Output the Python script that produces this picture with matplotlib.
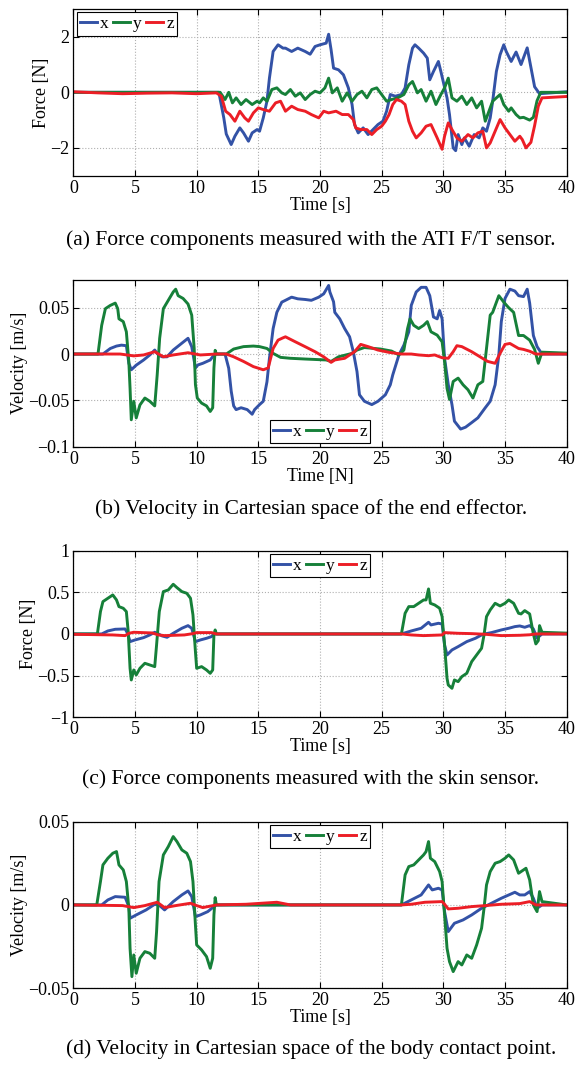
import numpy as np
import matplotlib
matplotlib.use("Agg")
import matplotlib.pyplot as plt
from matplotlib.ticker import FuncFormatter

# (time [s], value) pairs
a_x = [(0, 0), (11.8, 0), (12.2, -0.92), (12.4, -1.5), (12.8, -1.88), (13.1, -1.58), (13.5, -1.28),
       (13.8, -1.46), (14.2, -1.76), (14.5, -1.46), (14.9, -1.34), (15.1, -1.40), (15.4, -0.92),
       (15.7, -0.32), (15.9, 0.51), (16.2, 1.47), (16.6, 1.71), (17.0, 1.59), (17.2, 1.59), (17.7, 1.47),
       (18.2, 1.59), (18.8, 1.47), (19.2, 1.37), (19.6, 1.65), (20.0, 1.71), (20.5, 1.77), (20.7, 2.09),
       (20.9, 1.53), (21.1, 0.87), (21.5, 0.81), (21.9, 0.63), (22.3, 0.16), (22.6, -0.44), (22.8, -1.16),
       (23.1, -1.46), (23.5, -1.28), (23.9, -1.52), (24.3, -1.34), (24.7, -1.16), (25.1, -1.04),
       (25.4, -0.68), (25.7, -0.08), (26.1, -0.14), (26.6, -0.08), (26.9, 0.16), (27.2, 0.99), (27.5, 1.59),
       (27.7, 1.71), (28.0, 1.59), (28.4, 1.41), (28.7, 1.23), (28.9, 0.45), (29.2, 0.75), (29.6, 1.11),
       (29.8, 0.75), (30.3, -0.2), (30.5, -0.8), (30.8, -2.0), (31.0, -2.1), (31.2, -1.52), (31.5, -1.88),
       (31.7, -1.64), (32.1, -1.94), (32.5, -1.52), (32.9, -1.64), (33.2, -1.28), (33.5, -1.40),
       (33.8, -0.92), (34.0, -0.32), (34.3, 0.75), (34.6, 1.35), (34.9, 1.71), (35.1, 1.47), (35.5, 1.11),
       (35.9, 1.45), (36.3, 1.0), (36.8, 1.6), (37.1, 0.9), (37.4, 0.2), (37.8, -0.05), (40, 0.02)]
a_y = [(0, 0), (11.9, 0), (12.3, -0.26), (12.6, 0.0), (12.9, -0.38), (13.2, -0.2), (13.6, -0.44),
       (14.0, -0.26), (14.5, -0.44), (14.9, -0.32), (15.1, -0.38), (15.4, -0.2), (15.7, -0.32), (16.1, 0.1),
       (16.5, 0.16), (16.9, -0.02), (17.2, -0.08), (17.6, 0.1), (18.0, -0.14), (18.4, -0.02), (18.8, -0.26),
       (19.2, -0.08), (19.6, 0.04), (20.0, -0.02), (20.4, 0.16), (20.7, 0.51), (21.0, -0.02), (21.4, 0.16),
       (21.8, -0.32), (22.2, -0.02), (22.6, -0.32), (23.0, -0.08), (23.4, 0.04), (23.8, -0.2), (24.2, 0.1),
       (24.6, 0.16), (25.0, -0.08), (25.4, -0.32), (25.8, -0.26), (26.3, -0.2), (26.8, -0.08), (27.2, 0.27),
       (27.5, 0.39), (27.9, -0.02), (28.2, 0.1), (28.6, -0.32), (29.0, 0.04), (29.4, -0.44), (29.8, -0.08),
       (30.1, 0.16), (30.4, 0.51), (30.7, -0.2), (31.1, -0.32), (31.5, -0.14), (31.9, -0.44), (32.3, -0.2),
       (32.7, -0.56), (33.1, -0.32), (33.4, -1.04), (33.7, -0.68), (34.0, -0.32), (34.6, -0.08),
       (34.9, -0.44), (35.3, -0.68), (35.5, -0.56), (35.9, -0.8), (36.2, -0.92), (36.5, -0.9), (37.0, -1.0),
       (37.3, -0.9), (37.6, -0.3), (37.9, 0.0), (40, 0.0)]
a_z = [(0, 0.02), (2, -0.02), (4, -0.05), (6, -0.03), (8, -0.02), (10, -0.05), (11.6, -0.02), (12.0, -0.14),
       (12.35, -0.68), (12.7, -0.8), (13.1, -1.04), (13.5, -0.68), (13.9, -0.92), (14.2, -1.04),
       (14.6, -0.74), (15.0, -0.56), (15.4, -0.62), (15.9, -0.68), (16.4, -0.38), (16.8, -0.32),
       (17.2, -0.68), (17.7, -0.5), (18.2, -0.62), (18.8, -0.68), (19.3, -0.8), (19.9, -0.92), (20.3, -0.68),
       (20.7, -0.74), (21.3, -0.68), (21.8, -0.8), (22.3, -0.8), (22.7, -0.98), (22.9, -1.28), (23.3, -1.34),
       (23.8, -1.34), (24.2, -1.52), (24.6, -1.34), (25.0, -1.22), (25.3, -1.04), (25.6, -0.8), (25.9, -0.44),
       (26.2, -0.26), (26.6, -0.32), (26.9, -0.44), (27.2, -1.04), (27.5, -1.4), (27.8, -1.64), (28.2, -1.46),
       (28.6, -1.22), (29.0, -1.16), (29.5, -1.64), (29.9, -2.05), (30.1, -1.58), (30.4, -1.1), (30.7, -1.34),
       (31.1, -1.64), (31.5, -1.76), (32.0, -1.52), (32.4, -1.64), (32.8, -1.46), (33.2, -1.4), (33.5, -2.0),
       (33.8, -1.82), (34.2, -1.4), (34.6, -0.98), (35.0, -1.28), (35.4, -1.52), (35.8, -1.76), (36.2, -1.58),
       (36.4, -1.7), (36.7, -2.0), (37.1, -1.8), (37.4, -1.2), (37.7, -0.5), (38.0, -0.2), (40, -0.15)]

b_x = [(0, 0), (2.4, 0), (3.0, 0.006), (3.5, 0.0086), (3.9, 0.0096), (4.3, 0.009), (4.5, -0.01), (4.7, -0.017),
       (5.1, -0.012), (5.7, -0.0064), (6.2, -0.001), (6.6, 0.0043), (6.9, -0.001), (7.2, -0.003), (7.6, -0.003),
       (8.1, 0.0043), (8.6, 0.0096), (9.3, 0.017), (9.6, 0.0079), (9.9, -0.015), (10.1, -0.0118), (10.5, -0.01),
       (11.1, -0.0064), (11.3, -0.0029), (11.5, 0), (12.3, 0), (12.6, -0.0154), (12.8, -0.040), (13.0, -0.056),
       (13.2, -0.06), (13.6, -0.058), (14.1, -0.06), (14.5, -0.065), (14.7, -0.06), (15.1, -0.0546),
       (15.4, -0.051), (15.7, -0.03), (15.9, -0.0046), (16.2, 0.0275), (16.5, 0.045), (16.9, 0.056),
       (17.2, 0.058), (17.7, 0.0614), (18.2, 0.0596), (18.8, 0.0589), (19.3, 0.058), (19.9, 0.0614),
       (20.3, 0.065), (20.7, 0.074), (20.8, 0.067), (21.1, 0.0564), (21.2, 0.045), (21.6, 0.038), (22.0, 0.0275),
       (22.4, 0.0186), (22.7, 0.0025), (23.0, -0.019), (23.2, -0.044), (23.6, -0.051), (24.2, -0.0546),
       (24.7, -0.051), (25.3, -0.044), (25.7, -0.0332), (25.9, -0.0225), (26.4, -0.001), (26.8, 0.0096),
       (27.2, 0.024), (27.4, 0.0525), (27.8, 0.067), (28.2, 0.072), (28.6, 0.072), (28.9, 0.063), (29.2, 0.04),
       (29.5, 0.038), (29.7, 0.047), (29.9, 0.038), (30.1, -0.0046), (30.4, -0.033), (30.7, -0.0546),
       (30.9, -0.0725), (31.4, -0.081), (31.8, -0.079), (32.3, -0.074), (32.8, -0.0689), (33.4, -0.058),
       (33.8, -0.051), (34.2, -0.0332), (34.5, -0.001), (34.7, 0.035), (35.0, 0.06), (35.4, 0.07), (35.8, 0.068),
       (36.1, 0.063), (36.5, 0.062), (36.8, 0.07), (37.0, 0.055), (37.3, 0.02), (37.6, 0.008), (38.0, 0.0),
       (40, 0.0)]
b_y = [(0, 0), (2.0, 0), (2.3, 0.031), (2.6, 0.049), (3.0, 0.0525), (3.4, 0.055), (3.6, 0.049), (3.7, 0.038),
       (4.05, 0.035), (4.3, 0.024), (4.5, -0.008), (4.6, -0.037), (4.7, -0.071), (4.9, -0.051), (5.1, -0.069),
       (5.4, -0.055), (5.8, -0.0475), (6.2, -0.051), (6.6, -0.056), (6.8, -0.0225), (7.0, 0.017), (7.3, 0.049),
       (7.7, 0.058), (8.1, 0.067), (8.3, 0.070), (8.5, 0.063), (8.9, 0.060), (9.3, 0.054), (9.6, 0.042),
       (9.8, 0.006), (9.9, -0.033), (10.05, -0.0475), (10.4, -0.053), (10.8, -0.056), (11.1, -0.062),
       (11.3, -0.058), (11.4, -0.015), (11.5, 0.004), (11.6, 0), (12.4, 0), (13.0, 0.0054), (13.8, 0.008),
       (14.6, 0.0086), (15.1, 0.008), (15.7, 0.006), (16.2, 0.0007), (16.8, -0.0036), (17.6, -0.0046),
       (18.8, -0.0054), (20.5, -0.0064), (20.9, -0.008), (21.5, -0.003), (22.6, 0.0007), (23.0, 0.0043),
       (23.6, 0.007), (24.9, 0.0054), (25.8, 0.0032), (26.4, -0.001), (26.8, 0.0043), (27.1, 0.0275),
       (27.3, 0.038), (27.6, 0.031), (28.0, 0.0275), (28.4, 0.031), (28.7, 0.035), (29.0, 0.024), (29.5, 0.0204),
       (29.9, 0.0132), (30.1, -0.0082), (30.3, -0.037), (30.5, -0.049), (30.8, -0.0296), (31.2, -0.026),
       (31.6, -0.0332), (32.0, -0.0386), (32.4, -0.0475), (32.8, -0.0332), (33.2, -0.0296), (33.5, 0.006),
       (33.8, 0.042), (34.0, 0.045), (34.5, 0.063), (34.9, 0.056), (35.3, 0.050), (35.7, 0.045), (36.1, 0.020),
       (36.5, 0.02), (37.0, 0.015), (37.4, 0.005), (37.7, -0.01), (38.0, 0.002), (40, 0.001)]
b_z = [(0, 0), (3.8, 0), (4.9, -0.002), (5.7, -0.001), (6.6, 0.0025), (7.3, -0.003), (8.1, -0.001), (9.3, 0.0014),
       (10.3, -0.001), (11.6, 0), (12.4, 0), (13.0, -0.003), (13.8, -0.008), (14.6, -0.0136), (15.4, -0.017),
       (15.8, -0.015), (16.2, 0.006), (16.6, 0.015), (17.0, 0.0175), (17.2, 0.0186), (18.0, 0.0132),
       (18.8, 0.0079), (19.6, 0.0025), (20.3, -0.003), (20.9, -0.009), (21.2, -0.0064), (22.0, -0.0046),
       (22.8, 0.0025), (23.3, 0.0104), (23.9, 0.008), (24.7, 0.0043), (25.6, 0.0018), (26.6, 0), (27.4, 0),
       (28.0, -0.001), (28.8, -0.0018), (29.3, -0.001), (29.9, -0.004), (30.4, -0.0046), (30.8, 0.0025),
       (31.1, 0.009), (31.5, 0.008), (32.3, 0.0025), (33.1, -0.004), (33.6, -0.008), (34.2, -0.01),
       (34.6, 0.0007), (35.0, 0.0104), (35.4, 0.0114), (36.1, 0.006), (36.5, 0.005), (37.0, 0.003), (37.5, 0.0),
       (40, 0.0)]

c_x = [(0, 0), (2.3, 0), (2.8, 0.036), (3.4, 0.056), (4.2, 0.06), (4.4, 0.008), (4.6, -0.092), (5.0, -0.072),
       (5.7, -0.044), (6.2, -0.012), (6.6, 0.02), (6.9, 0.0), (7.2, -0.024), (7.6, -0.04), (8.1, 0.008),
       (8.8, 0.068), (9.3, 0.1), (9.6, 0.068), (9.9, -0.092), (10.3, -0.072), (10.8, -0.052), (11.2, -0.032),
       (11.4, 0), (26.6, 0), (27.4, 0.036), (28.2, 0.068), (28.8, 0.14), (29.0, 0.108), (29.6, 0.128),
       (29.9, 0.12), (30.1, -0.132), (30.3, -0.252), (30.7, -0.192), (31.2, -0.152), (31.9, -0.092),
       (32.6, -0.052), (33.2, -0.004), (33.9, 0.016), (34.7, 0.048), (35.3, 0.068), (35.8, 0.088), (36.2, 0.096),
       (36.6, 0.08), (37.0, 0.1), (37.3, 0.06), (37.6, -0.05), (38.0, 0.0), (40, 0.0)]
c_y = [(0, 0), (1.95, 0), (2.2, 0.268), (2.4, 0.388), (2.8, 0.428), (3.2, 0.468), (3.5, 0.408), (3.7, 0.328),
       (4.05, 0.308), (4.3, 0.268), (4.45, 0.028), (4.6, -0.412), (4.7, -0.552), (4.9, -0.432), (5.1, -0.492),
       (5.4, -0.412), (5.8, -0.352), (6.2, -0.372), (6.6, -0.392), (6.75, -0.132), (6.97, 0.268), (7.3, 0.508),
       (7.7, 0.528), (8.1, 0.596), (8.4, 0.556), (8.8, 0.508), (9.2, 0.488), (9.5, 0.428), (9.7, 0.228),
       (9.9, -0.212), (10.0, -0.412), (10.4, -0.392), (10.8, -0.432), (11.1, -0.472), (11.3, -0.432),
       (11.4, -0.012), (11.5, 0.048), (11.6, 0), (26.6, 0), (26.9, 0.248), (27.2, 0.328), (27.6, 0.328),
       (28.0, 0.368), (28.4, 0.408), (28.6, 0.408), (28.8, 0.54), (28.95, 0.368), (29.3, 0.348), (29.7, 0.308),
       (29.9, 0.208), (30.1, -0.132), (30.3, -0.532), (30.4, -0.612), (30.7, -0.652), (30.9, -0.552),
       (31.2, -0.572), (31.5, -0.512), (31.9, -0.472), (32.3, -0.332), (32.7, -0.252), (33.1, -0.172),
       (33.3, -0.012), (33.5, 0.208), (33.8, 0.288), (34.2, 0.368), (34.6, 0.336), (35.0, 0.368), (35.3, 0.408),
       (35.7, 0.368), (36.1, 0.248), (36.3, 0.24), (36.6, 0.28), (37.0, 0.24), (37.3, 0.0), (37.5, -0.12),
       (37.7, -0.08), (37.8, 0.1), (38.0, 0.02), (40, 0.01)]
c_z = [(0, -0.004), (3.2, -0.012), (4.2, -0.02), (4.5, 0.008), (4.9, 0.02), (6.4, 0.012), (6.9, -0.012),
       (7.4, -0.02), (9.0, -0.012), (9.7, 0.004), (10.0, 0.016), (11.2, 0.016), (11.6, 0), (26.6, 0),
       (27.4, -0.012), (28.4, -0.02), (29.9, -0.012), (30.1, 0.016), (31.2, 0.008), (32.3, 0.004),
       (33.4, -0.004), (34.7, -0.02), (36.2, -0.016), (37.0, -0.01), (37.5, 0.0), (40, 0.0)]

d_x = [(0, 0), (2.3, 0), (2.8, 0.003), (3.4, 0.005), (4.2, 0.0046), (4.5, -0.001), (4.6, -0.008), (5.1, -0.006),
       (5.9, -0.003), (6.6, 0.0004), (7.0, -0.0004), (7.4, -0.003), (8.1, 0.002), (8.8, 0.006), (9.3, 0.0084),
       (9.6, 0.005), (9.9, -0.007), (10.3, -0.006), (10.9, -0.004), (11.4, -0.001), (11.6, 0), (26.6, 0),
       (27.4, 0.003), (28.2, 0.006), (28.8, 0.012), (29.1, 0.009), (29.6, 0.01), (29.9, 0.009), (30.1, -0.004),
       (30.4, -0.016), (30.9, -0.011), (31.6, -0.009), (32.3, -0.006), (33.1, -0.002), (33.9, 0.001),
       (34.7, 0.004), (35.8, 0.0076), (36.2, 0.006), (36.6, 0.006), (37.0, 0.008), (37.3, 0.004),
       (37.6, -0.002), (38.0, 0.0), (40, 0.0)]
d_y = [(0, 0), (1.9, 0), (2.2, 0.014), (2.4, 0.024), (2.8, 0.028), (3.2, 0.031), (3.5, 0.032), (3.7, 0.024),
       (4.05, 0.021), (4.3, 0.014), (4.5, -0.002), (4.6, -0.026), (4.75, -0.043), (4.9, -0.03), (5.1, -0.041),
       (5.4, -0.032), (5.8, -0.028), (6.2, -0.029), (6.6, -0.032), (6.75, -0.016), (6.95, 0.014), (7.3, 0.03),
       (7.7, 0.035), (8.1, 0.041), (8.4, 0.038), (8.8, 0.033), (9.2, 0.031), (9.5, 0.026), (9.7, 0.014),
       (9.9, -0.012), (10.0, -0.024), (10.4, -0.027), (10.8, -0.031), (11.1, -0.038), (11.3, -0.032),
       (11.4, -0.006), (11.5, 0.0044), (11.6, 0), (26.6, 0), (26.9, 0.018), (27.2, 0.023), (27.6, 0.024),
       (28.0, 0.027), (28.4, 0.03), (28.6, 0.032), (28.8, 0.038), (28.95, 0.028), (29.3, 0.026), (29.7, 0.02),
       (29.9, 0.014), (30.1, -0.006), (30.3, -0.026), (30.5, -0.034), (30.8, -0.04), (31.2, -0.034),
       (31.5, -0.036), (31.9, -0.03), (32.3, -0.032), (32.7, -0.024), (33.1, -0.014), (33.3, -0.002),
       (33.5, 0.012), (33.8, 0.02), (34.2, 0.025), (34.6, 0.026), (35.0, 0.028), (35.3, 0.030), (35.7, 0.027),
       (36.1, 0.019), (36.3, 0.02), (36.7, 0.022), (37.0, 0.015), (37.3, 0.0), (37.6, -0.004), (37.8, 0.008),
       (38.0, 0.002), (40, 0.0)]
d_z = [(0, 0), (4.0, -0.0004), (4.9, -0.0016), (5.8, -0.0004), (6.8, 0.0016), (7.4, -0.0016), (8.3, -0.0004),
       (9.5, 0.001), (10.0, -0.0004), (10.5, -0.0016), (11.6, 0), (14.0, 0.0004), (16.5, 0.0016), (17.6, 0),
       (26.6, 0), (27.4, 0.0004), (28.5, 0.0016), (29.9, 0.002), (30.1, 0.0004), (30.4, -0.0024), (31.2, -0.002),
       (32.3, -0.001), (33.4, -0.0004), (34.7, 0.0004), (36.2, 0.0008), (37.0, 0.002), (37.5, 0.0), (40, 0.0)]

x_ticks = [0, 5, 10, 15, 20, 25, 30, 35, 40]
a_yticks = [-2, 0, 2]
b_yticks = [-0.1, -0.05, 0, 0.05]
c_yticks = [-1, -0.5, 0, 0.5, 1]
d_yticks = [-0.05, 0, 0.05]

captions = ["(a) Force components measured with the ATI F/T sensor.",
            "(b) Velocity in Cartesian space of the end effector.",
            "(c) Force components measured with the skin sensor.",
            "(d) Velocity in Cartesian space of the body contact point."]

colors = ["#3352a6", "#168039", "#ec1e26"]

plt.rcParams["font.family"] = "serif"
plt.rcParams["font.serif"] = ["Liberation Serif", "DejaVu Serif"]
plt.rcParams["font.size"] = 13


def fmt(v, pos):
    s = "%g" % v
    return s.replace("-", "\u2212")


def panel(fig, rect, series, ylim, yticks, xlabel, ylabel, legloc):
    ax = fig.add_axes(rect)
    for (name, data), c in zip(series, colors):
        d = np.array(data).T
        ax.plot(d[0], d[1], color=c, lw=2.1, label=name, solid_joinstyle="round")
    ax.set_xlim(0, 40)
    ax.set_ylim(*ylim)
    ax.set_xticks(x_ticks)
    ax.set_yticks(yticks)
    ax.yaxis.set_major_formatter(FuncFormatter(fmt))
    ax.grid(True, ls=":", color="#b0b0b0", lw=0.8)
    ax.tick_params(direction="in", top=True, right=True, length=4, labelsize=13, pad=3)
    for s in ax.spines.values():
        s.set_linewidth(0.9)
    ax.set_xlabel(xlabel, fontsize=13, labelpad=0)
    ax.set_ylabel(ylabel, fontsize=13, labelpad=0)
    leg = ax.legend(loc=legloc, ncol=3, handlelength=0.95, handletextpad=0.2, columnspacing=0.25,
                    borderpad=0.2, borderaxespad=0.2, fancybox=False, framealpha=1, fontsize=12.5)
    leg.get_frame().set_edgecolor("black")
    leg.get_frame().set_linewidth(0.8)
    return ax


def make_figure():
    fig = plt.figure(figsize=(5.76, 10.66), dpi=100)
    left, width, height = 0.1273, 0.8565, 0.1564
    panel(fig, [left, 0.8352, width, height], [("x", a_x), ("y", a_y), ("z", a_z)],
          (-3, 3), a_yticks, "Time [s]", "Force [N]", "upper left")
    panel(fig, [left, 0.5810, width, height], [("x", b_x), ("y", b_y), ("z", b_z)],
          (-0.1, 0.08), b_yticks, "Time [N]", "Velocity [m/s]", "lower center")
    panel(fig, [left, 0.3271, width, height], [("x", c_x), ("y", c_y), ("z", c_z)],
          (-1, 1), c_yticks, "Time [s]", "Force [N]", "upper center")
    panel(fig, [left, 0.0729, width, height], [("x", d_x), ("y", d_y), ("z", d_z)],
          (-0.05, 0.05), d_yticks, "Time [s]", "Velocity [m/s]", "upper center")
    cap_y = [240, 509, 779, 1049]
    for txt, y in zip(captions, cap_y):
        fig.text(311 / 576, 1 - y / 1066, txt, ha="center", va="center", fontsize=15.5)
    fig.savefig("out.png", dpi=100)


if __name__ == "__main__":
    make_figure()
